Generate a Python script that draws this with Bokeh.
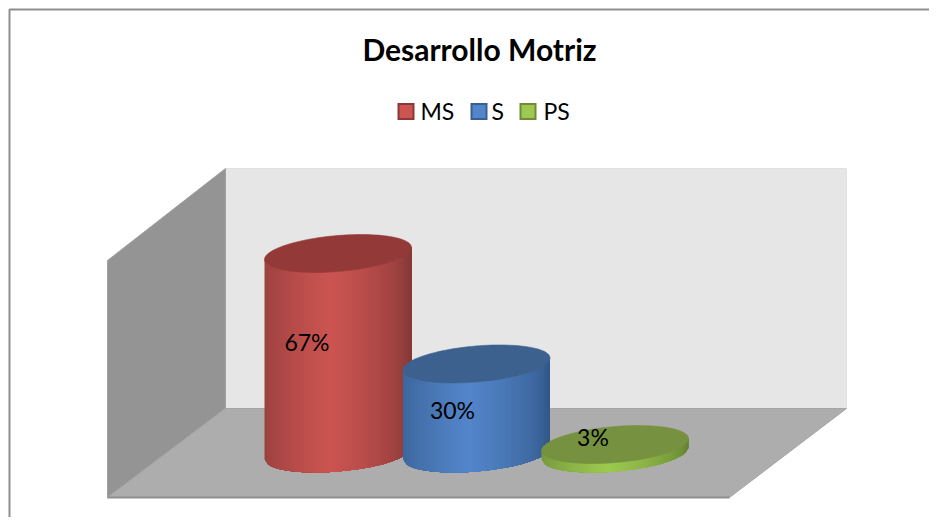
import numpy as np
from bokeh.core.properties import value
from bokeh.embed import file_html
from bokeh.models import Range1d
from bokeh.plotting import figure
from bokeh.resources import INLINE

title = "Desarrollo Motriz"
categories = ["MS", "S", "PS"]
values = [67, 30, 3]
labels = ["67%", "30%", "3%"]

FONT = value("Lato")
edge_colors = ["#7c3533", "#2d5280", "#5f7a30"]
mid_colors = ["#cc5451", "#5385ca", "#9cc94f"]
top_colors = ["#933a39", "#3c618e", "#76913f"]
swatch_lines = ["#8c3836", "#37608f", "#71893a"]

p = figure(width=929, height=517, output_backend="svg", toolbar_location=None,
           x_range=Range1d(0, 929), y_range=Range1d(517, 0),
           min_border=0, outline_line_color=None, background_fill_color="white")
p.axis.visible = False
p.grid.visible = False

# chart frame (left and top edges only are visible)
p.line([9, 9, 929], [517, 9, 9], line_color="#8e8e8e", line_width=2)

# 3-D box
p.patch([225, 846, 846, 225], [168, 168, 408, 408], fill_color="#e6e6e6", line_color="#e0e0e0")
p.patch([107, 225, 225, 107], [260, 168, 408, 497], fill_color="#949494", line_color="#a0a0a0")
p.patch([107, 729, 846, 225], [497, 497, 408, 408], fill_color="#adadad", line_color="#a6a6a6")
p.line([107, 729], [497, 497], line_color="#8f8f8f", line_width=2)


def hex2rgb(c):
    return np.array([int(c[i:i + 2], 16) for i in (1, 3, 5)], float)


def mix(a, b, f):
    c = hex2rgb(a) * (1 - f) + hex2rgb(b) * f
    return "#%02x%02x%02x" % tuple(int(round(v)) for v in c)


A, TILT, DEPTH = 73.5, 6.0, 18.0   # ellipse half-width and skew in screen px
BASE_Y, PX_PER_PCT = 453.0, 2.985
FIRST_X, STEP_X = 337.5, 138.5
LABEL_DX = [-31, -24, -22]
LABEL_DY = [-12, 1, -12]

for i, v in enumerate(values):
    cx = FIRST_X + i * STEP_X
    top_y = BASE_Y - v * PX_PER_PCT
    # body: vertical strips painted left to right; each overlaps the next so no seams show
    xs = np.linspace(-A, A, 50)
    t_all = np.arccos(np.clip(xs / A, -1, 1))
    off = -TILT * xs / A + DEPTH * np.sin(t_all)
    for k in range(len(xs) - 1):
        xm = (xs[k] + xs[k + 1]) / 2 / A
        f = np.clip(1 - abs(xm + 0.1) / 1.1, 0, 1) ** 0.55
        col = mix(edge_colors[i], mid_colors[i], f)
        sx = np.concatenate([xs[k:], xs[k:][::-1]]) + cx
        sy = np.concatenate([top_y + off[k:], (BASE_Y + off[k:])[::-1]])
        p.patch(sx, sy, fill_color=col, line_color=None)
    # top face
    t = np.linspace(0, 2 * np.pi, 120)
    p.patch(cx + A * np.cos(t), top_y - TILT * np.cos(t) + DEPTH * np.sin(t),
            fill_color=top_colors[i], line_color=top_colors[i], line_width=0.6)
    p.text([cx + LABEL_DX[i]], [(top_y + BASE_Y) / 2 + LABEL_DY[i]], text=[labels[i]],
           text_font=FONT, text_font_size="23px", text_color="black",
           text_align="center", text_baseline="middle")

# title
p.text([479], [48], text=[title], text_font=FONT, text_font_size="30px",
       text_font_style="bold", text_color="black", text_align="center", text_baseline="middle")

# legend
swatch_x = [405.5, 478.5, 527.5]
text_x = [420, 491, 543]
for i, c in enumerate(categories):
    p.rect([swatch_x[i]], [111], width=15, height=15, fill_color=mid_colors[i],
           line_color=swatch_lines[i], line_width=2, line_join="miter")
    p.text([text_x[i]], [110], text=[c], text_font=FONT, text_font_size="23px",
           text_color="black", text_align="left", text_baseline="middle")

open("out.html", "w").write(file_html(p, INLINE))
